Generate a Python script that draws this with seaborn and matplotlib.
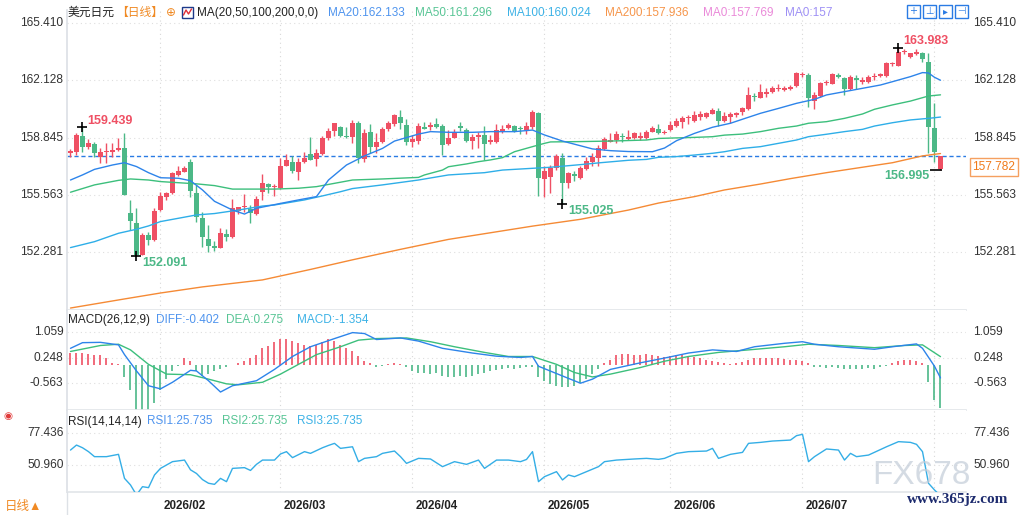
import numpy as np
import pandas as pd
import matplotlib
matplotlib.use("Agg")
import matplotlib.pyplot as plt
import matplotlib.transforms as mtrans
from matplotlib.patches import Rectangle
from matplotlib.lines import Line2D
import seaborn as sns

sns.set_theme(style="white")
plt.rcParams["font.family"] = ["Liberation Sans", "Noto Sans CJK SC", "DejaVu Sans"]

# ---------------- data ----------------
START_DATE = "2026-01-06"

OPEN = [157.99, 158.04, 158.94, 158.33, 158.48, 157.76, 158.04, 158.03, 158.14, 158.24,
        154.51, 153.94, 152.15, 153.27, 152.99, 154.71, 155.43, 155.66, 156.71, 156.90,
        157.43, 155.66, 154.23, 153.03, 152.64, 152.51, 153.33, 153.14, 154.67, 154.86,
        154.76, 154.47, 155.75, 156.17, 156.00, 155.94, 157.22, 157.47, 156.90, 157.47,
        157.91, 157.60, 157.91, 158.80, 159.20, 159.44, 158.94, 158.90, 159.70, 157.60,
        159.17, 158.29, 158.62, 159.32, 159.61, 160.01, 159.57, 158.62, 158.67, 159.47,
        159.44, 159.60, 159.51, 158.48, 158.80, 159.51, 159.28, 158.67, 158.90, 159.00,
        158.60, 158.62, 159.19, 159.38, 159.51, 159.36, 159.28, 159.44, 160.28, 156.46,
        156.57, 157.09, 157.70, 156.27, 156.77, 156.52, 157.03, 157.47, 157.66, 158.17,
        158.62, 158.71, 158.94, 158.75, 158.80, 158.80, 158.80, 159.19, 159.34, 159.13,
        159.28, 159.53, 159.76, 159.99, 159.80, 160.03, 160.05, 160.22, 160.37, 159.80,
        160.05, 160.14, 160.30, 160.49, 161.23, 161.13, 161.33, 161.44, 161.63, 161.57,
        161.61, 161.80, 162.41, 162.43, 160.96, 161.23, 161.96, 161.92, 162.43, 162.24,
        161.61, 162.24, 162.05, 162.05, 162.30, 162.37, 162.37, 163.06, 162.95, 163.75,
        163.48, 163.62, 163.71, 163.20, 159.38, 157.03]
HIGH = [158.18, 159.13, 159.439, 158.75, 158.62, 158.24, 158.56, 158.52, 158.81, 159.11,
        155.28, 154.80, 153.41, 153.46, 154.80, 155.75, 155.75, 156.90, 157.22, 157.22,
        157.61, 156.14, 154.61, 153.85, 152.90, 153.65, 153.60, 155.31, 154.90, 155.60,
        155.00, 155.50, 156.77, 156.23, 156.20, 157.66, 157.91, 157.80, 157.66, 158.00,
        158.86, 158.18, 158.94, 159.38, 159.70, 159.50, 159.47, 159.86, 159.82, 159.32,
        159.63, 159.13, 159.44, 159.82, 160.20, 160.43, 159.89, 159.00, 159.67, 159.74,
        159.76, 159.95, 159.60, 159.28, 159.34, 159.76, 159.38, 159.06, 159.19, 159.51,
        159.00, 159.63, 159.57, 159.67, 159.57, 159.51, 159.76, 160.43, 160.33, 157.22,
        157.28, 157.91, 157.95, 156.90, 156.96, 157.22, 157.76, 157.99, 158.42, 158.90,
        159.09, 159.25, 159.13, 159.28, 159.19, 159.19, 159.30, 159.53, 159.61, 159.28,
        159.80, 159.99, 160.10, 160.14, 160.37, 160.37, 160.33, 160.52, 160.52, 160.30,
        160.33, 160.33, 160.62, 161.77, 161.38, 161.90, 161.67, 161.82, 161.90, 161.82,
        161.85, 162.62, 162.62, 162.53, 161.48, 162.05, 162.15, 162.57, 162.57, 162.34,
        162.43, 162.43, 162.34, 162.43, 162.53, 162.57, 163.20, 163.20, 163.983, 163.90,
        163.71, 163.90, 163.77, 163.67, 160.85, 157.80]
LOW = [157.72, 157.85, 158.04, 158.18, 157.76, 157.42, 157.42, 157.76, 158.10, 155.56,
       153.56, 152.091, 152.12, 152.70, 152.95, 154.65, 155.28, 155.60, 156.65, 156.85,
       155.47, 154.04, 152.61, 152.32, 152.35, 152.51, 152.90, 153.08, 154.50, 154.60,
       153.98, 154.40, 155.28, 155.66, 155.50, 155.90, 157.20, 156.80, 156.42, 157.40,
       157.55, 157.22, 157.85, 158.70, 158.94, 158.86, 158.80, 158.56, 157.41, 157.47,
       157.99, 157.95, 158.52, 159.25, 159.51, 159.32, 158.42, 158.29, 158.48, 159.32,
       159.28, 159.40, 157.85, 158.42, 158.80, 159.25, 158.60, 158.17, 158.23, 157.57,
       158.50, 158.56, 159.10, 159.32, 159.19, 159.06, 159.06, 159.32, 155.50, 155.47,
       155.70, 156.99, 155.025, 155.95, 156.38, 156.50, 156.99, 157.22, 157.22, 158.14,
       158.60, 158.52, 158.62, 158.71, 158.75, 158.70, 158.75, 159.15, 159.04, 159.04,
       159.25, 159.47, 159.38, 159.61, 159.76, 159.86, 159.95, 160.18, 159.51, 159.76,
       159.67, 160.05, 160.14, 160.43, 160.95, 161.10, 161.20, 161.38, 161.52, 161.52,
       161.55, 161.76, 162.34, 160.62, 160.47, 161.19, 161.86, 161.90, 162.24, 161.29,
       161.57, 161.61, 161.92, 161.99, 162.15, 162.30, 162.34, 162.95, 162.95, 163.64,
       163.39, 163.58, 163.20, 157.99, 157.47, 156.995]
CLOSE = [158.10, 159.00, 158.33, 158.52, 157.99, 158.04, 158.10, 158.14, 158.24, 155.56,
         154.09, 152.15, 153.27, 152.99, 154.65, 155.51, 155.66, 156.80, 156.94, 157.09,
         155.81, 154.32, 153.18, 152.64, 152.55, 153.37, 153.18, 154.80, 154.86, 154.90,
         154.51, 155.33, 156.23, 156.04, 156.04, 157.22, 157.57, 156.96, 157.47, 157.66,
         157.57, 157.99, 158.80, 159.22, 159.66, 158.94, 158.86, 159.70, 157.66, 159.13,
         158.33, 158.62, 159.32, 159.70, 160.14, 159.67, 158.62, 158.75, 159.51, 159.36,
         159.57, 159.48, 158.42, 158.80, 159.19, 159.38, 158.65, 158.90, 159.00, 158.48,
         158.70, 159.28, 159.36, 159.57, 159.25, 159.34, 159.51, 160.33, 156.52, 156.96,
         157.09, 157.80, 156.27, 156.80, 156.65, 157.09, 157.53, 157.76, 158.23, 158.75,
         158.71, 159.06, 158.86, 158.90, 159.09, 158.95, 159.15, 159.42, 159.11, 159.17,
         159.57, 159.80, 159.99, 160.01, 160.14, 160.18, 160.28, 160.43, 159.80, 160.09,
         160.20, 160.24, 160.52, 161.29, 161.19, 161.48, 161.48, 161.71, 161.71, 161.71,
         161.77, 162.53, 162.49, 161.10, 161.29, 161.99, 162.05, 162.49, 162.30, 161.61,
         162.34, 162.15, 162.15, 162.34, 162.37, 162.49, 163.10, 163.14, 163.77, 163.79,
         163.67, 163.75, 163.33, 159.44, 158.04, 157.782]

# moving averages (candle index, value)
MA20_X = [0, 2, 4, 7, 9, 11, 13, 15, 18, 20, 22, 24, 27, 29, 31, 35, 38, 41, 43, 46,
          49, 52, 54, 56, 58, 60, 63, 67, 70, 74, 77, 79, 82, 85, 87, 90, 93, 97, 99, 101,
          104, 107, 110, 112, 115, 118, 121, 124, 126, 129, 132, 135, 137, 140, 142, 143, 144, 145]
MA20_Y = [156.42, 156.71, 157.03, 157.28, 157.41, 157.19, 156.84, 156.55, 156.52, 156.38,
          155.85, 155.20, 154.70, 154.47, 154.80, 155.08, 155.28, 155.47, 156.42, 157.28,
          157.80, 158.23, 158.65, 158.85, 159.05, 159.19, 159.15, 159.15, 159.19, 159.19,
          159.28, 159.00, 158.65, 158.38, 158.20, 158.10, 158.05, 158.04, 158.25, 158.67,
          159.09, 159.44, 159.67, 159.90, 160.24, 160.52, 160.81, 161.04, 161.29, 161.48,
          161.67, 161.86, 162.05, 162.34, 162.57, 162.55, 162.30, 162.133]
MA50_X = [0, 4, 8, 10, 13, 15, 21, 24, 27, 30, 34, 38, 41, 44, 47, 52, 58, 59, 62, 63,
          66, 68, 70, 72, 74, 77, 79, 80, 85, 90, 96, 98, 104, 107, 109, 112, 115, 118, 121, 123,
          126, 129, 132, 134, 137, 140, 143, 145]
MA50_Y = [155.72, 156.14, 156.40, 156.48, 156.42, 156.33, 156.20, 156.10, 155.90, 155.90,
          155.90, 155.95, 156.04, 156.23, 156.42, 156.48, 156.57, 156.71, 156.99, 157.18,
          157.34, 157.47, 157.57, 157.70, 158.04, 158.33, 158.52, 158.60, 158.62, 158.65,
          158.71, 158.80, 158.86, 158.90, 158.99, 159.05, 159.19, 159.38, 159.51, 159.67,
          159.76, 159.95, 160.20, 160.47, 160.72, 160.94, 161.23, 161.296]
MA100_X = [0, 4, 8, 11, 13, 15, 18, 21, 24, 28, 32, 34, 39, 42, 45, 47, 52, 58, 63, 69,
           72, 80, 85, 88, 93, 96, 98, 101, 104, 107, 109, 112, 115, 118, 121, 123, 126, 129, 132, 134,
           137, 140, 143, 145]
MA100_Y = [152.55, 152.89, 153.37, 153.60, 153.79, 154.04, 154.23, 154.42, 154.50, 154.70,
           154.93, 154.99, 155.28, 155.51, 155.75, 155.93, 156.14, 156.42, 156.71, 156.84,
           156.99, 157.15, 157.30, 157.40, 157.55, 157.60, 157.72, 157.76, 157.85, 157.95,
           158.04, 158.23, 158.33, 158.52, 158.71, 158.90, 159.04, 159.19, 159.32, 159.51,
           159.70, 159.86, 159.95, 160.024]
MA200_X = [0, 9, 15, 22, 32, 40, 47, 55, 63, 70, 77, 85, 93, 98, 104, 109, 115, 120, 126, 131,
           137, 142, 145]
MA200_Y = [149.09, 149.61, 149.95, 150.30, 150.70, 151.30, 151.85, 152.45, 153.02, 153.40,
           153.78, 154.17, 154.70, 155.10, 155.47, 155.85, 156.19, 156.50, 156.84, 157.10,
           157.41, 157.80, 157.936]
MA0_LABELS = ["MA0:157.769", "MA0:157"]

# MACD(26,12,9)
DIFF_X = [0, 2, 5, 8, 9, 11, 13, 15, 17, 20, 21, 23, 25, 27, 31, 34, 37, 40, 44, 47,
          49, 51, 55, 58, 62, 67, 71, 75, 77, 78, 82, 85, 87, 90, 95, 99, 103, 107, 111, 114,
          119, 122, 124, 128, 134, 137, 141, 142, 144, 145]
DIFF_Y = [0.54, 0.72, 0.73, 0.65, 0.34, -0.18, -0.65, -0.75, -0.54, -0.16,
          -0.18, -0.49, -0.85, -0.65, -0.49, -0.13, 0.28, 0.59, 0.85, 1.04,
          1.01, 0.82, 0.87, 0.77, 0.54, 0.39, 0.29, 0.25, 0.28, -0.03,
          -0.34, -0.57, -0.44, -0.13, 0.08, 0.23, 0.39, 0.49, 0.44, 0.59,
          0.70, 0.75, 0.67, 0.59, 0.51, 0.59, 0.68, 0.54, -0.03, -0.402]
DEA_X = [0, 5, 8, 10, 13, 16, 20, 23, 26, 28, 32, 35, 38, 41, 45, 48, 51, 56, 60, 64,
         69, 73, 77, 81, 84, 87, 90, 95, 99, 103, 108, 113, 119, 123, 128, 134, 139, 142, 145]
DEA_Y = [0.44, 0.63, 0.67, 0.49, 0.03, -0.28, -0.30, -0.44, -0.59, -0.62,
         -0.54, -0.28, 0.03, 0.34, 0.59, 0.80, 0.85, 0.87, 0.75, 0.59,
         0.41, 0.28, 0.28, 0.03, -0.23, -0.37, -0.28, -0.07, 0.13, 0.28,
         0.41, 0.49, 0.59, 0.67, 0.63, 0.56, 0.63, 0.65, 0.275]
HIST = [0.39, 0.39, 0.39, 0.37, 0.34, 0.32, 0.24, 0.08, 0.03, -0.38,
        -0.80, -1.45, -1.45, -1.45, -1.20, -0.80, -0.44, -0.18, -0.02, 0.24,
        0.13, -0.18, -0.34, -0.28, -0.18, -0.13, -0.07, 0.01, 0.08, 0.15,
        0.24, 0.34, 0.55, 0.60, 0.75, 0.85, 0.85, 0.77, 0.70, 0.65,
        0.60, 0.65, 0.75, 0.85, 0.77, 0.65, 0.55, 0.44, 0.29, 0.13,
        0.08, -0.05, -0.03, 0.05, 0.08, 0.03, -0.07, -0.18, -0.23, -0.26,
        -0.28, -0.26, -0.34, -0.37, -0.38, -0.34, -0.37, -0.34, -0.28, -0.23,
        -0.18, -0.16, -0.13, -0.10, -0.13, -0.10, -0.07, -0.05, -0.38, -0.49,
        -0.59, -0.65, -0.70, -0.70, -0.65, -0.57, -0.44, -0.28, -0.13, 0.08,
        0.18, 0.34, 0.36, 0.36, 0.34, 0.34, 0.36, 0.32, 0.29, 0.26,
        0.29, 0.32, 0.34, 0.29, 0.26, 0.22, 0.18, 0.15, 0.11, 0.08,
        0.05, 0.08, 0.11, 0.18, 0.22, 0.22, 0.24, 0.22, 0.22, 0.21,
        0.18, 0.18, 0.15, 0.08, -0.07, -0.07, -0.10, -0.07, -0.10, -0.13,
        -0.13, -0.13, -0.13, -0.10, -0.13, -0.07, -0.02, 0.08, 0.13, 0.18,
        0.18, 0.13, 0.08, -0.54, -1.10, -1.354]

# RSI(14,14,14) - the three lines coincide
RSI_X = [0, 1, 2, 3, 4, 6, 8, 9, 10, 11, 12, 13, 14, 15, 17, 19, 20, 21, 22, 23,
         24, 25, 26, 27, 28, 29, 30, 31, 32, 34, 35, 36, 37, 39, 40, 42, 43, 44, 45, 47,
         48, 49, 51, 52, 54, 55, 56, 58, 60, 62, 64, 66, 68, 69, 71, 73, 75, 76, 77, 78,
         79, 81, 82, 83, 84, 86, 88, 89, 91, 94, 96, 98, 99, 101, 103, 106, 107, 108, 110, 112,
         113, 115, 117, 120, 121, 122, 123, 124, 126, 128, 129, 130, 131, 133, 136, 138, 140, 141, 142, 143,
         144, 145]
RSI_Y = [63.2, 67.3, 65.1, 61.9, 57.8, 57.8, 59.7, 40.0, 34.6, 26.4,
         33.2, 32.4, 42.8, 48.2, 53.7, 55.0, 47.0, 44.0, 39.0, 36.0,
         35.1, 40.0, 37.3, 48.2, 48.5, 48.8, 46.5, 51.5, 55.0, 55.0,
         60.0, 61.9, 57.0, 61.9, 60.5, 65.1, 67.0, 68.7, 64.6, 65.9,
         53.7, 56.4, 57.8, 60.5, 62.4, 57.8, 52.3, 56.4, 55.9, 49.6,
         53.7, 51.5, 55.0, 48.2, 55.0, 55.0, 53.7, 55.5, 61.9, 37.3,
         41.4, 45.5, 38.7, 42.8, 41.4, 45.5, 49.6, 53.7, 55.0, 55.9,
         56.4, 55.6, 56.4, 60.5, 61.9, 62.4, 64.6, 56.4, 59.7, 61.3,
         68.7, 69.5, 70.6, 71.4, 75.0, 76.1, 53.7, 57.8, 64.1, 63.2,
         55.0, 60.5, 57.8, 59.1, 65.9, 70.1, 69.5, 67.9, 61.9, 36.0,
         30.5, 25.735]

PRICE_TICKS = [165.410, 162.128, 158.845, 155.563, 152.281]
MACD_TICKS = [1.059, 0.248, -0.563]
RSI_TICKS = [77.436, 50.960]

# ---------------- styling ----------------
RED, GREEN = "#ef5064", "#4cb887"
C_MA20, C_MA50, C_MA100, C_MA200 = "#2d84ea", "#3cbf7c", "#2eaee8", "#f58a35"
GRID_IDX = [15, 35, 57, 79, 100, 122, 144]

n = len(CLOSE)
dates = pd.bdate_range(START_DATE, periods=n)
month_pos = [i for i in range(1, n) if dates[i].month != dates[i - 1].month]
month_lbl = [dates[i].strftime("%Y/%m") for i in month_pos]

W, H = 1021, 515
fig = plt.figure(figsize=(W / 100, H / 100), dpi=100)
fig.patch.set_facecolor("white")
X0, X1 = 67, 966


def box(top, bottom):
    return [X0 / W, 1 - bottom / H, (X1 - X0) / W, (bottom - top) / H]


ax_p = fig.add_axes(box(10, 310))
ax_m = fig.add_axes(box(310, 410))
ax_r = fig.add_axes(box(410, 492))
ax_p.set_ylim(148.977, 166.154)
ax_m.set_ylim(-1.422, 1.759)
ax_r.set_ylim(28.83, 96.04)

for ax in (ax_p, ax_m, ax_r):
    ax.set_xlim(-0.583, 149.25)
    ax.set_facecolor("white")
    for s in ax.spines.values():
        s.set_visible(False)
    ax.spines["left"].set_visible(True)
    ax.spines["left"].set_color("#dde1e6")
    ax.spines["bottom"].set_visible(True)
    ax.spines["bottom"].set_color("#e3e6ea")
    ax.set_xticks([])
    ax.set_yticks([])
    ax.grid(False)
    for g in GRID_IDX:
        ax.axvline(g, color="#d8d8d8", ls=(0, (1, 3)), lw=0.8, zorder=0)


def side_labels(ax, ticks):
    tr = mtrans.blended_transform_factory(ax.transAxes, ax.transData)
    for t in ticks:
        ax.text(-0.004, t, f"{t:.3f}", transform=tr, ha="right", va="center",
                fontsize=8.6, color="#333333")
        ax.text(1.008, t, f"{t:.3f}", transform=tr, ha="left", va="center",
                fontsize=8.6, color="#333333")
        ax.axhline(t, color="#dedede", ls=(0, (1, 3)), lw=0.8, zorder=0)


side_labels(ax_p, PRICE_TICKS)
side_labels(ax_m, MACD_TICKS)
side_labels(ax_r, RSI_TICKS)

# candles
x = np.arange(n)
o, h, l, c = (np.array(v) for v in (OPEN, HIGH, LOW, CLOSE))
cols = np.where(c >= o, RED, GREEN)
ax_p.vlines(x, l, h, colors=cols, lw=1.0, zorder=3)
ax_p.bar(x, np.maximum(np.abs(c - o), 0.06), bottom=np.minimum(o, c), width=0.8,
         color=cols, linewidth=0, zorder=4)

for mx, my, col in ((MA200_X, MA200_Y, C_MA200), (MA100_X, MA100_Y, C_MA100),
                    (MA50_X, MA50_Y, C_MA50), (MA20_X, MA20_Y, C_MA20)):
    sns.lineplot(x=mx, y=my, ax=ax_p, color=col, linewidth=1.0, legend=False, zorder=5)

ax_p.axhline(CLOSE[-1], color="#2a7be4", ls=(0, (3, 2)), lw=1.0, zorder=2)

# extreme markers
i_hi = int(np.argmax(h))
i_lo = int(np.argmin(l))
marks = [(2, HIGH[2], RED, (3.2, 4.8)), (i_lo, LOW[i_lo], GREEN, (4, -5.3)),
         (82, LOW[82], GREEN, (4, -4.8)), (i_hi, HIGH[i_hi], RED, (3.2, 5.2))]
for mi, mv, col, off in marks:
    ax_p.plot(mi, mv, marker="+", ms=7, mew=1.2, color="black", zorder=6)
    ax_p.annotate(f"{mv:.3f}", (mi, mv), xytext=off, textcoords="offset points",
                  ha="left", va="center", color=col, fontsize=9, fontweight="bold", zorder=7)
ax_p.hlines(LOW[-1], n - 2.8, n - 0.8, color="black", lw=1.2, zorder=6)
ax_p.annotate(f"{LOW[-1]:.3f}", (n - 2.8, LOW[-1]), xytext=(0, -4.5), textcoords="offset points",
              ha="right", va="center", color=GREEN, fontsize=9, fontweight="bold", zorder=7)

# MACD panel
hist = np.array(HIST)
ax_m.vlines(x, 0, hist, colors=np.where(hist >= 0, RED, GREEN), lw=1.2, zorder=2)
sns.lineplot(x=DEA_X, y=DEA_Y, ax=ax_m, color=C_MA50, linewidth=1.0, legend=False, zorder=4)
sns.lineplot(x=DIFF_X, y=DIFF_Y, ax=ax_m, color=C_MA20, linewidth=1.0, legend=False, zorder=5)

# RSI panel
sns.lineplot(x=RSI_X, y=RSI_Y, ax=ax_r, color="#34aee6", linewidth=1.0, legend=False, zorder=4)

for ax in (ax_p, ax_m, ax_r):
    ax.set_xlabel("")
    ax.set_ylabel("")

ax_r.set_xticks(month_pos)
ax_r.set_xticklabels(month_lbl)
ax_r.tick_params(axis="x", length=0, pad=6, labelsize=8.4, labelcolor="#222222")
for lb in ax_r.get_xticklabels():
    lb.set_fontweight("bold")


def ftxt(px, py, s, color, size=8.5, **kw):
    fig.text(px / W, 1 - py / H, s, color=color, fontsize=size, ha=kw.pop("ha", "left"),
             va="center", **kw)


# header of the price panel
ftxt(68, 13, "美元日元", "#222222")
ftxt(116, 13, "【日线】", "#f08a24")
ftxt(166, 13, "⊕", "#f08a24", family="DejaVu Sans")
fig.patches.append(Rectangle((182 / W, 1 - 18 / H), 11 / W, 11 / H, transform=fig.transFigure,
                             fill=True, fc="white", ec="#1e3a8a", lw=1))
fig.add_artist(Line2D([183.5 / W, 186 / W, 188.5 / W, 191.5 / W],
                      [1 - 15 / H, 1 - 10 / H, 1 - 14 / H, 1 - 9 / H], color="#e0303a", lw=1))
ftxt(197, 13, "MA(20,50,100,200,0,0)", "#222222")
ftxt(328, 13, f"MA20:{MA20_Y[-1]:.3f}", "#4f94ee")
ftxt(415, 13, f"MA50:{MA50_Y[-1]:.3f}", "#58c595")
ftxt(507, 13, f"MA100:{MA100_Y[-1]:.3f}", "#3db2e6")
ftxt(605, 13, f"MA200:{MA200_Y[-1]:.3f}", "#f6954a")
ftxt(703, 13, MA0_LABELS[0], "#ea8ad9")
ftxt(785, 13, MA0_LABELS[1], "#9e90f5")
for bx, g in zip([907, 923, 939, 955], ["+", "⊥", "▸", "⊣"]):
    fig.patches.append(Rectangle((bx / W, 1 - 18 / H), 13 / W, 13 / H, transform=fig.transFigure,
                                 fill=False, ec="#2a7be4", lw=1))
    ftxt(bx + 6.5, 11.5, g, "#2a7be4", size=7, ha="center", family="DejaVu Sans")

# current price tag
fig.text(994 / W, 1 - 167 / H, f"{CLOSE[-1]:.3f}", color="#f07a1a", fontsize=8.6,
         ha="center", va="center",
         bbox=dict(boxstyle="square,pad=0.25", fc="white", ec="#f5a060", lw=1))

# MACD / RSI headers
ftxt(68, 320, "MACD(26,12,9)", "#222222")
ftxt(156, 320, f"DIFF:{DIFF_Y[-1]:.3f}", "#4f94ee")
ftxt(226, 320, f"DEA:{DEA_Y[-1]:.3f}", "#58c595")
ftxt(297, 320, f"MACD:{HIST[-1]:.3f}", "#3db2e6")
ftxt(68, 421.5, "RSI(14,14,14)", "#222222")
ftxt(147, 421.5, f"RSI1:{RSI_Y[-1]:.3f}", "#4f94ee")
ftxt(222, 421.5, f"RSI2:{RSI_Y[-1]:.3f}", "#58c595")
ftxt(297, 421.5, f"RSI3:{RSI_Y[-1]:.3f}", "#3db2e6")
ftxt(8, 416, "◉", "#e03a3a", size=7.5, ha="center", family="DejaVu Sans")

# bottom strip
ftxt(5, 507, "日线▲", "#f08a24", size=9)
fig.add_artist(Line2D([X0 / W, X0 / W], [0, 1 - 492 / H], color="#dde1e6", lw=1))

# watermark, kept just clear of the right-hand RSI label
fig.text(921 / W, 1 - 475 / H, "FX678", fontsize=24, color="#c3ccd8", alpha=0.7,
         ha="center", va="center", zorder=10)
fig.text(958 / W, 1 - 499 / H, "www.365jz.com", fontsize=11, color="#1d2b6e",
         fontweight="bold", family="Liberation Serif", ha="center", va="center", zorder=10)

fig.savefig("out.png", dpi=100, facecolor="white")
